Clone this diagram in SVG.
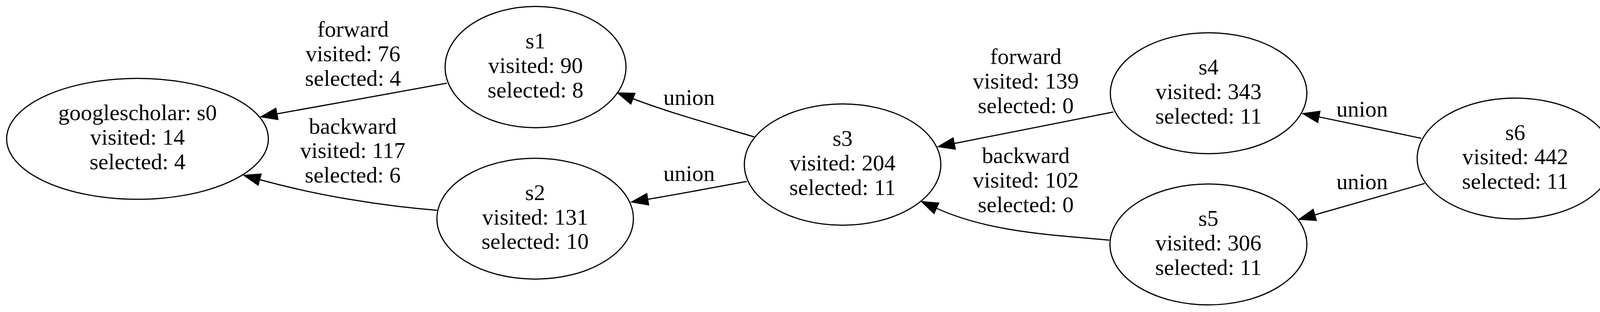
<svg xmlns="http://www.w3.org/2000/svg" width="4150" height="800" viewBox="0 0 4150 800">
<style>
.n ellipse{fill:none;stroke:#000;stroke-width:3}
text{font-family:"Liberation Serif","Times New Roman",serif;font-size:57.8px;text-anchor:middle;fill:#000}
.e path{fill:none;stroke:#000;stroke-width:3;marker-end:url(#arr)}
</style>
<defs>
<marker id="arr" viewBox="0 -16 42 32" refX="0" refY="0" markerWidth="42" markerHeight="32" markerUnits="userSpaceOnUse" orient="auto" overflow="visible">
<path d="M0,-14.5 L41,0 L0,14.5 Z" fill="#000" stroke="#000" stroke-width="3"/>
</marker>
</defs>
<rect x="0" y="0" width="4150" height="800" fill="#fff"/>
<g id="connectors" class="e">
<g id="e_s1_s0"><path d="M1144,213.3 C1000,240 850,266 708.7,292"/>
<text x="903.6" y="94.4">forward</text><text x="903.6" y="157">visited: 76</text><text x="903.6" y="219.6">selected: 4</text></g>
<g id="e_s2_s0"><path d="M1119.4,539.3 C969.4,527.3 809,500.3 664.5,460.5"/>
<text x="903" y="342.5">backward</text><text x="903" y="405.2">visited: 117</text><text x="903" y="467.9">selected: 6</text></g>
<g id="e_s3_s1"><path d="M1930.6,351 C1830.6,321 1720,291 1620,253"/>
<text x="1764" y="269">union</text></g>
<g id="e_s3_s2"><path d="M1911.7,465.3 C1830,480 1743,497 1658,511"/>
<text x="1764" y="464.3">union</text></g>
<g id="e_s4_s3"><path d="M2850,287.2 C2715,314 2580,341 2442.6,368"/>
<text x="2626" y="164.3">forward</text><text x="2626" y="227">visited: 139</text><text x="2626" y="289.7">selected: 0</text></g>
<g id="e_s5_s3"><path d="M2839.8,615.8 C2689.8,601.8 2533.8,595.5 2397,534"/>
<text x="2626" y="418.4">backward</text><text x="2626" y="481.1">visited: 102</text><text x="2626" y="543.8">selected: 0</text></g>
<g id="e_s6_s4"><path d="M3638.3,354.6 C3550,336 3465,318 3376,299.6"/>
<text x="3487" y="298.5">union</text></g>
<g id="e_s6_s5"><path d="M3647.4,470.4 C3553,497 3459,524 3365.5,551"/>
<text x="3487" y="484.7">union</text></g>
</g>
<g id="s0" class="n"><ellipse cx="352" cy="356" rx="335" ry="155"/>
<text x="352" y="308.3">googlescholar: s0</text><text x="352" y="371">visited: 14</text><text x="352" y="433.7">selected: 4</text></g>
<g id="s1" class="n"><ellipse cx="1371" cy="172" rx="231.5" ry="155.5"/>
<text x="1371" y="124.3">s1</text><text x="1371" y="187">visited: 90</text><text x="1371" y="249.7">selected: 8</text></g>
<g id="s2" class="n"><ellipse cx="1370" cy="560.7" rx="251.5" ry="155"/>
<text x="1370" y="513">s2</text><text x="1370" y="575.7">visited: 131</text><text x="1370" y="638.4">selected: 10</text></g>
<g id="s3" class="n"><ellipse cx="2157" cy="422" rx="251.5" ry="155.5"/>
<text x="2157" y="374.3">s3</text><text x="2157" y="437">visited: 204</text><text x="2157" y="499.7">selected: 11</text></g>
<g id="s4" class="n"><ellipse cx="3094" cy="239" rx="251.5" ry="155"/>
<text x="3094" y="191.3">s4</text><text x="3094" y="254">visited: 343</text><text x="3094" y="316.7">selected: 11</text></g>
<g id="s5" class="n"><ellipse cx="3093.5" cy="626.8" rx="252" ry="155"/>
<text x="3093.5" y="579.1">s5</text><text x="3093.5" y="641.8">visited: 306</text><text x="3093.5" y="704.5">selected: 11</text></g>
<g id="s6" class="n"><ellipse cx="3879" cy="406.4" rx="251" ry="155"/>
<text x="3879" y="358.7">s6</text><text x="3879" y="421.4">visited: 442</text><text x="3879" y="484.1">selected: 11</text></g>
</svg>
